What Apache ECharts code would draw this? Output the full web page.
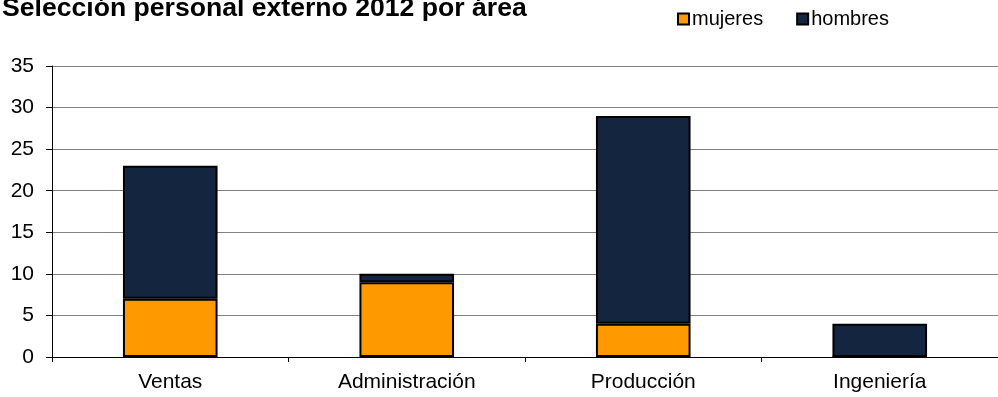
<!DOCTYPE html>
<html>
<head>
<meta charset="utf-8">
<script src="https://cdn.jsdelivr.net/npm/echarts@6/dist/echarts.min.js"></script>
<style>
  html, body { margin: 0; padding: 0; background: #fff; }
  #chart { width: 998px; height: 397px; }
</style>
</head>
<body>
<div id="chart"></div>
<script>
const categories = ['Ventas', 'Administración', 'Producción', 'Ingeniería'];
const mujeres = [7, 9, 4, 0];
const hombres = [16, 1, 25, 4];
const yTicks = { min: 0, max: 35, interval: 5 };

const font = 'Liberation Sans, Arial, sans-serif';
const chart = echarts.init(document.getElementById('chart'));

const barStyle = (color) => ({
  color: color,
  borderColor: '#000',
  borderWidth: 2
});

chart.setOption({
  animation: false,
  title: {
    text: 'Selección personal externo 2012 por área',
    left: 2,
    top: -5,
    padding: 0,
    textStyle: { fontFamily: font, fontSize: 26.6, fontWeight: 'bold', color: '#000' }
  },
  legend: {
    left: 677,
    top: 9,
    padding: 0,
    itemWidth: 11,
    itemHeight: 11,
    itemGap: 33,
    icon: 'rect',
    textStyle: { fontFamily: font, fontSize: 20, color: '#000', padding: [0, 0, 0, -2] },
    data: ['mujeres', 'hombres']
  },
  grid: { left: 52, right: -6, top: 66, bottom: 40, containLabel: false },
  xAxis: {
    type: 'category',
    data: categories,
    axisLine: { lineStyle: { color: '#000', width: 1 } },
    axisTick: { show: true, length: 5, lineStyle: { color: '#000' } },
    axisLabel: { fontFamily: font, fontSize: 21, color: '#000', margin: 15 }
  },
  yAxis: {
    type: 'value',
    min: yTicks.min,
    max: yTicks.max,
    interval: yTicks.interval,
    axisLine: { show: true, lineStyle: { color: '#000', width: 1 } },
    axisTick: { show: true, length: 6, lineStyle: { color: '#000' } },
    axisLabel: { fontFamily: font, fontSize: 21, color: '#000', margin: 18 },
    splitLine: { lineStyle: { color: '#808080', width: 1 } }
  },
  series: [
    {
      name: 'mujeres',
      type: 'bar',
      stack: 'total',
      barWidth: '40%',
      data: mujeres,
      itemStyle: barStyle('#ff9900')
    },
    {
      name: 'hombres',
      type: 'bar',
      stack: 'total',
      barWidth: '40%',
      data: hombres,
      itemStyle: barStyle('#13253f')
    }
  ]
});
</script>
</body>
</html>
